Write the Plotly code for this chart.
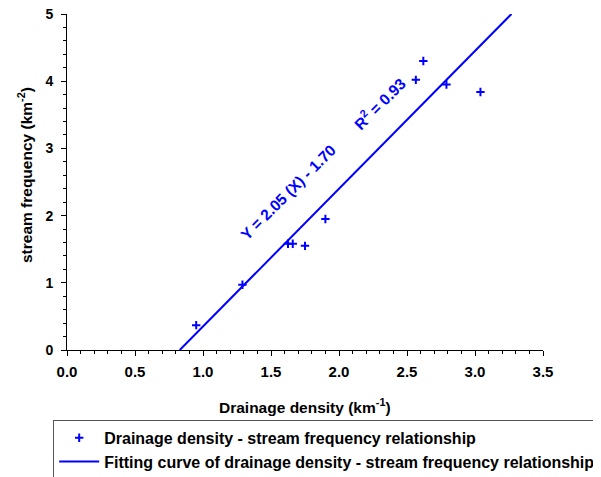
import plotly.graph_objects as go

# Data
drainage_density = [0.95, 1.29, 1.625, 1.66, 1.75, 1.90, 2.565, 2.62, 2.79, 3.04]
stream_frequency = [0.37, 0.97, 1.58, 1.58, 1.55, 1.95, 4.02, 4.30, 3.95, 3.84]
fit_slope = 2.05
fit_intercept = -1.70
x_ticks = [0.0, 0.5, 1.0, 1.5, 2.0, 2.5, 3.0, 3.5]
y_ticks = [0, 1, 2, 3, 4, 5]

FONT = "Arial, 'Liberation Sans', sans-serif"
BLUE = "#0000ff"

y_max = 5
x_start = -fit_intercept / fit_slope
x_end = (y_max - fit_intercept) / fit_slope
fit_x = [x_start, x_end]
fit_y = [fit_slope * v + fit_intercept for v in fit_x]

fig = go.Figure()
fig.add_trace(go.Scatter(
    x=drainage_density, y=stream_frequency, mode="markers",
    name="Drainage density - stream frequency relationship",
    marker=dict(symbol="cross-thin", size=6, color=BLUE, line=dict(width=2, color=BLUE)),
))
fig.add_trace(go.Scatter(
    x=fit_x, y=fit_y, mode="lines",
    name="Fitting curve of drainage density - stream frequency relationship",
    line=dict(color=BLUE, width=2),
))

fig.add_annotation(x=1.625, y=2.34, xref="x", yref="y", text="<b>Y = 2.05 (X) - 1.70</b>",
                   textangle=-45, showarrow=False, font=dict(family=FONT, size=15.5, color=BLUE))
fig.add_annotation(x=2.30, y=3.67, xref="x", yref="y", text="<b>R<sup>2</sup> = 0.93</b>",
                   textangle=-45, showarrow=False, font=dict(family=FONT, size=15.5, color=BLUE))

fig.add_annotation(x=-0.088, y=0.521, xref="paper", yref="paper",
                   text="<b>stream frequency (km<sup>-2</sup>)</b>", textangle=-90,
                   showarrow=False, xanchor="center", yanchor="middle",
                   font=dict(family=FONT, size=15.5, color="black"))
fig.add_annotation(x=0.5, y=-0.167, xref="paper", yref="paper",
                   text="<b>Drainage density (km<sup>-1</sup>)</b>",
                   showarrow=False, xanchor="center", yanchor="middle",
                   font=dict(family=FONT, size=15.5, color="black"))

fig.update_layout(
    width=601, height=477,
    margin=dict(l=59, r=66, t=6, b=135, autoexpand=False),
    paper_bgcolor="white", plot_bgcolor="white",
    font=dict(family=FONT, size=15, color="black"),
    showlegend=True,
    legend=dict(
        x=-0.029, y=-0.208, xanchor="left", yanchor="top",
        bordercolor="#555555", borderwidth=1, bgcolor="white",
        font=dict(family=FONT, size=16, color="black", weight="bold"),
        tracegroupgap=0, itemwidth=40,
    ),
    xaxis=dict(
        range=[0, 3.5], tickvals=x_ticks, tickformat=".1f",
        showline=True, linecolor="black", linewidth=1, mirror=False,
        ticks="outside", ticklen=5, tickcolor="black", showgrid=False, zeroline=False,
        tickfont=dict(family=FONT, size=15, weight="bold"), ticklabelstandoff=3,
        ticklabeloverflow="allow",
        minor=dict(dtick=0.1, ticks="outside", ticklen=3, tickcolor="black", showgrid=False),
    ),
    yaxis=dict(
        range=[0, 5], tickvals=y_ticks,
        showline=True, linecolor="black", linewidth=1, mirror=False,
        ticks="outside", ticklen=5, tickcolor="black", showgrid=False, zeroline=False,
        tickfont=dict(family=FONT, size=14, weight="bold"), ticklabelstandoff=5,
        ticklabeloverflow="allow",
        minor=dict(dtick=0.2, ticks="outside", ticklen=3, tickcolor="black", showgrid=False),
    ),
)

fig.write_html("out.html")
